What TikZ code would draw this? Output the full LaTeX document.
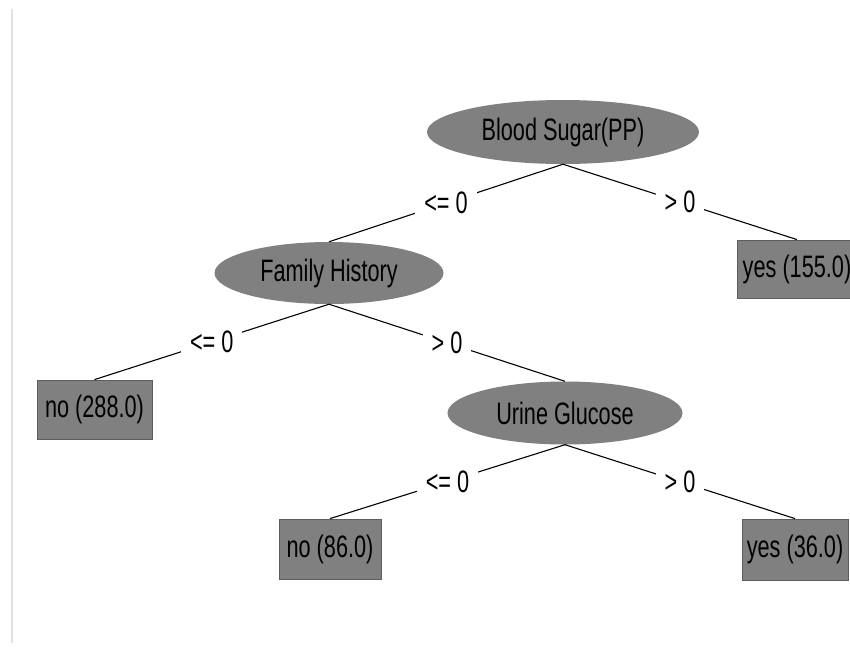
\documentclass[tikz,border=0pt]{standalone}
\usepackage{fontspec}
\newfontfamily\treefont[FakeStretch=0.7]{Liberation Sans}
\usetikzlibrary{shapes.geometric}
\definecolor{nodegray}{HTML}{808080}
\definecolor{edgegray}{HTML}{5E5E5E}
\definecolor{rulegray}{HTML}{DCE3EB}

\begin{document}
\begin{tikzpicture}[x=1pt,y=-1pt,
  every node/.style={font=\treefont\fontsize{31}{34}\selectfont, text=black},
  split/.style={ellipse, fill=nodegray, inner sep=0pt},
  leaf/.style={rectangle, fill=nodegray, draw=edgegray, line width=0.8pt, inner sep=0pt},
  branch/.style={draw=black, line width=1.1pt},
  cond/.style={fill=white, inner xsep=9pt, inner ysep=2pt}]

\path[use as bounding box] (0,0) rectangle (850,651);
\draw[rulegray, line width=2pt] (12,9) -- (12,643);

% decision nodes
\node[split, minimum width=272pt, minimum height=64pt] (bs) at (563,132) {Blood Sugar(PP)};
\node[split, minimum width=229pt, minimum height=62pt] (fh) at (329,273) {Family History};
\node[split, minimum width=235pt, minimum height=63pt] (ug) at (565,413) {Urine Glucose};

% leaves
\node[leaf, minimum width=120pt, minimum height=58pt] (yesA) at (797,269) {yes (155.0)};
\node[leaf, minimum width=115pt, minimum height=59pt] (noA) at (94.5,409.5) {no (288.0)};
\node[leaf, minimum width=102pt, minimum height=60pt] (noB) at (330,549) {no (86.0)};
\node[leaf, minimum width=106pt, minimum height=61pt] (yesB) at (795,549.5) {yes (36.0)};

% branches
\draw[branch] (bs.south) -- node[cond] {<= 0} (fh.north);
\draw[branch] (bs.south) -- node[cond] {> 0} (yesA.north);
\draw[branch] (fh.south) -- node[cond] {<= 0} (noA.north);
\draw[branch] (fh.south) -- node[cond] {> 0} (ug.north);
\draw[branch] (ug.south) -- node[cond] {<= 0} (noB.north);
\draw[branch] (ug.south) -- node[cond] {> 0} (yesB.north);
\end{tikzpicture}
\end{document}
